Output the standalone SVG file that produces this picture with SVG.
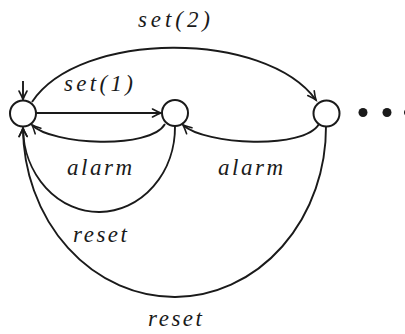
<svg xmlns="http://www.w3.org/2000/svg" width="405" height="334" viewBox="0 0 405 334">
<style>
.node{fill:#fff;stroke:#1a1a1a;stroke-width:2}
.edge{fill:none;stroke:#1a1a1a;stroke-width:1.9}
.lbl{font-family:"Liberation Serif","DejaVu Serif",serif;font-style:italic;font-size:23px;fill:#1a1a1a;text-anchor:middle}
.dot{fill:#1a1a1a}
</style>
<defs>
<marker id="arr" markerUnits="userSpaceOnUse" markerWidth="14" markerHeight="12" viewBox="-10 -6 12 12" refX="0" refY="0" orient="auto" overflow="visible">
<path d="M-8.5 -4 Q-3 -1 0 0 Q-3 1 -8.5 4" fill="none" stroke="#1a1a1a" stroke-width="1.6" stroke-linecap="round"/>
</marker>
</defs>
<g id="edges">
<path class="edge" d="M23 81 L23 99.5" marker-end="url(#arr)"/>
<path class="edge" d="M36 113 L161 113" marker-end="url(#arr)"/>
<path class="edge" d="M32 102 C80 30 265 30 316 100" marker-end="url(#arr)"/>
<path class="edge" d="M165 124 C150 150 52 145 32 125" marker-end="url(#arr)"/>
<path class="edge" d="M319 124 C304 150 205 145 183 125" marker-end="url(#arr)"/>
<path class="edge" d="M175 126 A76 85 0 0 1 23 128" marker-end="url(#arr)"/>
<path class="edge" d="M326 126 A151.5 170 0 0 1 23 128" marker-end="url(#arr)"/>
</g>
<g id="n0"><circle class="node" cx="23" cy="113.5" r="13"/></g>
<g id="n1"><circle class="node" cx="175" cy="113" r="13"/></g>
<g id="n2"><circle class="node" cx="326.5" cy="113.5" r="13"/></g>
<g id="ellipsis">
<circle class="dot" cx="363" cy="112.5" r="4.5"/>
<circle class="dot" cx="387" cy="112.5" r="4.5"/>
<circle class="dot" cx="408.5" cy="112.5" r="4.5"/>
</g>
<g id="labels">
<text class="lbl" x="174" y="27" textLength="72" lengthAdjust="spacing">set(2)</text>
<text class="lbl" x="98.5" y="90.5" textLength="69" lengthAdjust="spacing">set(1)</text>
<text class="lbl" x="99.5" y="175" textLength="65" lengthAdjust="spacing">alarm</text>
<text class="lbl" x="250.5" y="175" textLength="65" lengthAdjust="spacing">alarm</text>
<text class="lbl" x="100" y="242" textLength="54" lengthAdjust="spacing">reset</text>
<text class="lbl" x="175" y="326" textLength="54" lengthAdjust="spacing">reset</text>
</g>
</svg>
